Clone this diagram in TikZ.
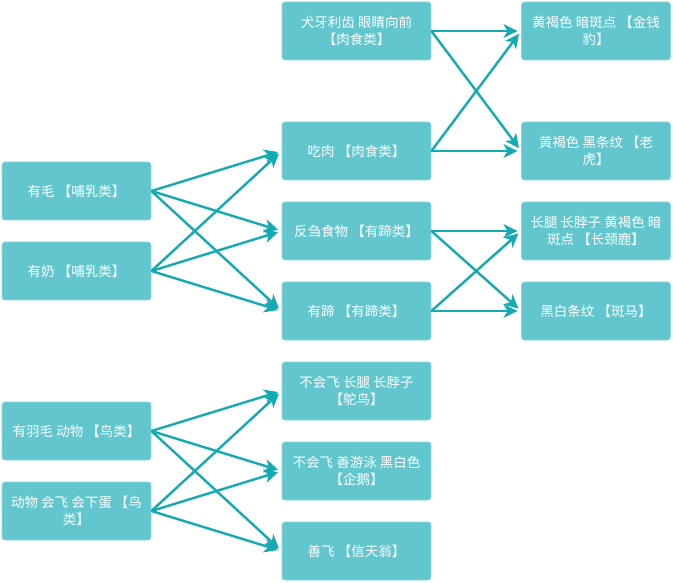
\documentclass[tikz,border=0pt]{standalone}
\usepackage{fontspec}
\setmainfont{Noto Sans CJK SC}
\usetikzlibrary{arrows.meta}
\definecolor{boxfill}{RGB}{98,198,206}
\definecolor{boxline}{RGB}{140,214,220}
\definecolor{arrowcol}{RGB}{20,170,179}
\tikzset{
  animalbox/.style={draw=boxline,line width=0.8pt,fill=boxfill,rounded corners=3pt,
    minimum width=149pt,minimum height=58pt,text=white,align=center,
    font=\fontsize{13.5}{17}\selectfont,inner sep=2pt},
  rulearrow/.style={draw=arrowcol,line width=2.4pt,shorten >=3.5pt,
    -{Stealth[length=14pt,width=13.5pt,inset=4pt]}}
}
\begin{document}
\begin{tikzpicture}[x=1pt,y=-1pt]
        \useasboundingbox (0,0) rectangle (673,583);
        %% Left column
        \node[animalbox] (mao) at (76.5,191) {有毛 【哺乳类】};
        \node[animalbox] (nai) at (76.5,271) {有奶 【哺乳类】};
        \node[animalbox] (yumao) at (76.5,431) {有羽毛 动物 【鸟类】};
        \node[animalbox] (feidan) at (76.5,511) {动物 会飞 会下蛋 【鸟\\类】};
        %% Middle column
        \node[animalbox] (quanya) at (356.5,31) {犬牙利齿 眼睛向前\\【肉食类】};
        \node[animalbox] (chirou) at (356.5,151) {吃肉 【肉食类】};
        \node[animalbox] (fanchu) at (356.5,231) {反刍食物 【有蹄类】};
        \node[animalbox] (youti) at (356.5,311) {有蹄 【有蹄类】};
        \node[animalbox] (tuoniao) at (356.5,391) {不会飞 长腿 长脖子\\【鸵鸟】};
        \node[animalbox] (qie) at (356.5,471) {不会飞 善游泳 黑白色\\【企鹅】};
        \node[animalbox] (xintian) at (356.5,551) {善飞 【信天翁】};
        %% Right column
        \node[animalbox] (bao) at (596,31) {黄褐色 暗斑点 【金钱\\豹】};
        \node[animalbox] (hu) at (596,151) {黄褐色 黑条纹 【老\\虎】};
        \node[animalbox] (lu) at (596,231) {长腿 长脖子 黄褐色 暗\\斑点 【长颈鹿】};
        \node[animalbox] (ma) at (596,311) {黑白条纹 【斑马】};
        %% Mammals
        \foreach \s in {mao,nai}
          \foreach \t in {chirou,fanchu,youti}
            \draw[rulearrow] (\s.east) -- (\t.west);
        %% Carnivores
        \foreach \s in {quanya,chirou}
          \foreach \t in {bao,hu}
            \draw[rulearrow] (\s.east) -- (\t.west);
        %% Ungulates
        \foreach \s in {fanchu,youti}
          \foreach \t in {lu,ma}
            \draw[rulearrow] (\s.east) -- (\t.west);
        %% Birds
        \foreach \s in {yumao,feidan}
          \foreach \t in {tuoniao,qie,xintian}
            \draw[rulearrow] (\s.east) -- (\t.west);
    \end{tikzpicture}
\end{document}
